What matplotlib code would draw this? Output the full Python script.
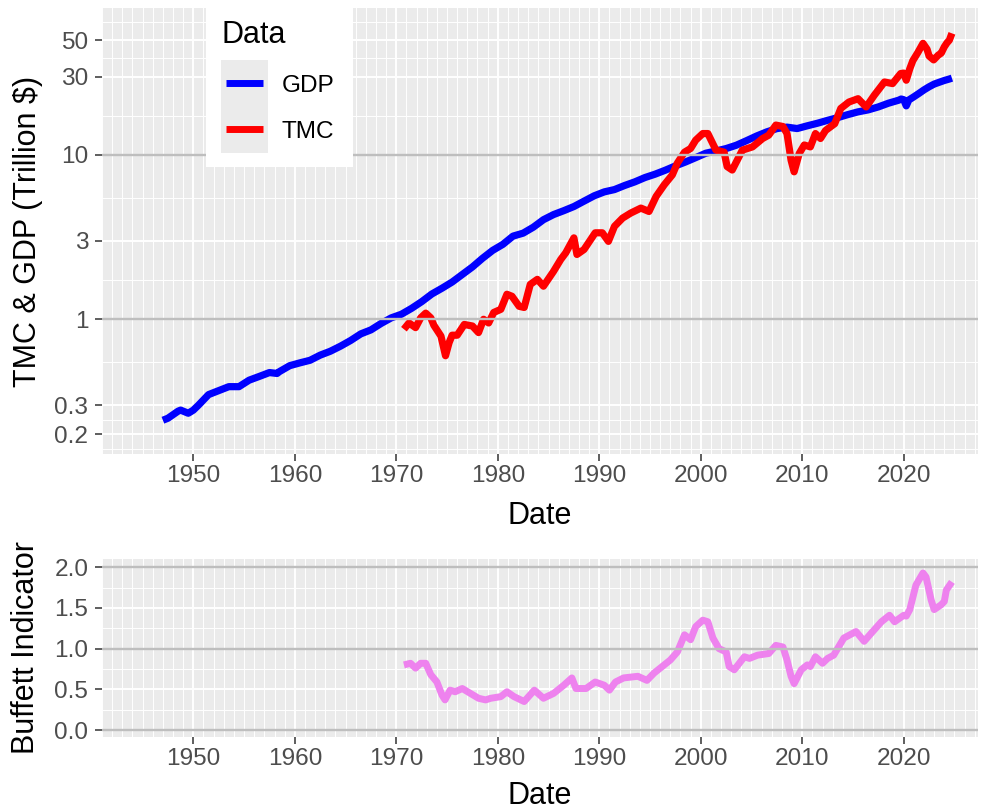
import numpy as np
import matplotlib
matplotlib.use("Agg")
import matplotlib.pyplot as plt
from matplotlib.lines import Line2D
from matplotlib.patches import Rectangle

plt.rcParams["font.family"] = ["Liberation Sans", "DejaVu Sans"]

# ── Data ──────────────────────────────────────────────────
gdp_date = [1947.0, 1947.5, 1948.5, 1948.75, 1949.5, 1950.0, 1950.5, 1951.5, 1952.5,
            1953.5, 1954.5, 1955.5, 1956.5, 1957.5, 1958.25, 1958.5, 1959.5, 1960.5,
            1961.5, 1962.5, 1963.5, 1964.5, 1965.5, 1966.5, 1967.5, 1968.5, 1969.5,
            1970.5, 1971.5, 1972.5, 1973.5, 1974.5, 1975.5, 1976.5, 1977.5, 1978.5,
            1979.5, 1980.5, 1981.5, 1982.5, 1983.5, 1984.5, 1985.5, 1986.5, 1987.5,
            1988.5, 1989.5, 1990.5, 1991.5, 1992.5, 1993.5, 1994.5, 1995.5, 1996.5,
            1997.5, 1998.5, 1999.5, 2000.5, 2001.5, 2002.5, 2003.5, 2004.5, 2005.5,
            2006.5, 2007.5, 2008.5, 2009.5, 2010.5, 2011.5, 2012.5, 2013.5, 2014.5,
            2015.5, 2016.5, 2017.5, 2018.5, 2019.5, 2019.75, 2020.0, 2020.25, 2020.5,
            2021.0, 2021.5, 2022.0, 2022.5, 2023.0, 2023.5, 2024.0, 2024.5, 2024.75]
gdp_value = [0.243, 0.25, 0.276, 0.28, 0.268, 0.28, 0.300, 0.348, 0.368,
             0.389, 0.389, 0.426, 0.449, 0.474, 0.468, 0.481, 0.522, 0.543,
             0.563, 0.605, 0.639, 0.686, 0.743, 0.815, 0.862, 0.943, 1.020,
             1.073, 1.165, 1.280, 1.425, 1.545, 1.685, 1.873, 2.082, 2.352,
             2.627, 2.857, 3.207, 3.344, 3.634, 4.037, 4.339, 4.580, 4.855,
             5.236, 5.642, 5.963, 6.158, 6.520, 6.859, 7.287, 7.640, 8.073,
             8.578, 9.063, 9.631, 10.25, 10.58, 10.94, 11.46, 12.21, 13.04,
             13.82, 14.47, 14.77, 14.48, 15.05, 15.60, 16.25, 16.88, 17.61,
             18.30, 18.81, 19.61, 20.66, 21.54, 21.9, 21.7, 19.9, 21.6,
             22.6, 23.7, 24.9, 26.0, 27.0, 27.7, 28.4, 29.0, 29.35]

tmc_date = [1970.75, 1971.25, 1971.9, 1972.4, 1972.9, 1973.4, 1973.7, 1974.4, 1974.85,
            1975.2, 1975.5, 1976.0, 1976.7, 1977.5, 1978.1, 1978.6, 1979.1, 1979.6,
            1980.3, 1980.9, 1981.4, 1982.1, 1982.6, 1983.2, 1983.9, 1984.5, 1985.5,
            1986.2, 1986.7, 1987.5, 1987.8, 1988.5, 1989.6, 1990.3, 1990.9, 1991.5,
            1992.3, 1993.1, 1994.1, 1994.9, 1995.6, 1996.4, 1997.2, 1997.7, 1998.4,
            1999.0, 1999.5, 2000.2, 2000.7, 2001.5, 2002.3, 2002.6, 2003.1, 2004.1,
            2005.1, 2006.1, 2006.7, 2007.4, 2008.1, 2008.5, 2008.9, 2009.2, 2009.7,
            2010.2, 2010.8, 2011.3, 2011.8, 2012.3, 2013.2, 2013.8, 2014.6, 2015.5,
            2016.3, 2017.1, 2018.1, 2018.9, 2019.7, 2020.0, 2020.25, 2020.6, 2020.9,
            2021.4, 2021.9, 2022.3, 2022.5, 2022.95, 2023.4, 2023.7, 2024.0, 2024.25,
            2024.5, 2024.75]
tmc_value = [0.87, 0.95, 0.89, 1.02, 1.09, 1.02, 0.92, 0.79, 0.60,
             0.72, 0.80, 0.80, 0.93, 0.91, 0.83, 1.00, 0.95, 1.10,
             1.15, 1.42, 1.38, 1.20, 1.18, 1.63, 1.75, 1.59, 1.96,
             2.31, 2.54, 3.13, 2.48, 2.66, 3.36, 3.36, 2.98, 3.68,
             4.13, 4.43, 4.75, 4.53, 5.59, 6.58, 7.57, 8.93, 10.4,
             10.95, 12.3, 13.5, 13.5, 10.7, 10.4, 8.5, 8.1, 10.7,
             11.2, 12.6, 13.2, 15.2, 14.9, 13.5, 9.3, 7.9, 10.2,
             11.5, 11.2, 13.5, 12.6, 14.1, 15.5, 19.2, 21.0, 22.0,
             19.6, 23.1, 27.8, 27.2, 31.3, 31.5, 28.5, 33.5, 37.5,
             42.1, 47.8, 44.0, 40.0, 37.9, 40.5, 41.7, 45.5, 48.0,
             50.0, 55.0]

buffett_date = [1970.75, 1971.4, 1971.9, 1972.4, 1972.9, 1973.4, 1974.0, 1974.5, 1974.8,
                1975.3, 1975.8, 1976.5, 1977.3, 1978.1, 1978.8, 1979.3, 1980.3, 1980.9,
                1981.6, 1982.6, 1983.6, 1984.5, 1985.5, 1986.5, 1987.3, 1987.7, 1988.7,
                1989.6, 1990.5, 1991.0, 1991.6, 1992.4, 1993.8, 1994.7, 1995.4, 1996.4,
                1997.0, 1997.7, 1998.4, 1999.0, 1999.5, 2000.2, 2000.7, 2001.2, 2001.8,
                2002.5, 2002.8, 2003.3, 2004.3, 2004.8, 2005.6, 2006.7, 2007.4, 2008.1,
                2008.5, 2008.9, 2009.2, 2009.9, 2010.5, 2010.8, 2011.3, 2012.0, 2012.5,
                2013.1, 2014.1, 2015.3, 2016.1, 2016.8, 2017.8, 2018.6, 2019.1, 2020.0,
                2020.25, 2020.6, 2021.2, 2021.9, 2022.2, 2022.7, 2023.0, 2023.7, 2024.0,
                2024.2, 2024.75]
buffett_value = [0.80, 0.82, 0.76, 0.82, 0.82, 0.68, 0.59, 0.43, 0.37,
                 0.49, 0.47, 0.51, 0.45, 0.39, 0.37, 0.39, 0.41, 0.47,
                 0.41, 0.35, 0.49, 0.39, 0.45, 0.55, 0.64, 0.51, 0.51,
                 0.59, 0.55, 0.49, 0.59, 0.64, 0.66, 0.61, 0.70, 0.80,
                 0.86, 0.96, 1.17, 1.11, 1.27, 1.35, 1.33, 1.13, 1.00,
                 0.96, 0.78, 0.74, 0.90, 0.88, 0.92, 0.94, 1.04, 1.02,
                 0.86, 0.66, 0.57, 0.74, 0.80, 0.78, 0.90, 0.82, 0.88,
                 0.92, 1.13, 1.21, 1.09, 1.19, 1.33, 1.41, 1.33, 1.41,
                 1.40, 1.48, 1.78, 1.93, 1.88, 1.60, 1.48, 1.54, 1.58,
                 1.72, 1.82]

top_ticks = [0.2, 0.3, 1, 3, 10, 30, 50]
top_tick_labels = ["0.2", "0.3", "1", "3", "10", "30", "50"]
bot_ticks = [0.0, 0.5, 1.0, 1.5, 2.0]
bot_tick_labels = ["0.0", "0.5", "1.0", "1.5", "2.0"]
year_ticks = [1950, 1960, 1970, 1980, 1990, 2000, 2010, 2020]
top_ref_lines = [1, 10]
bot_ref_lines = [0, 1, 2]

# ── Style ─────────────────────────────────────────────────
W, H = 982, 810
PANEL = "#EBEBEB"
REF = "#BEBEBE"
XLIM = (1940.97, 2027.32)


def px(x, y):
    return x / W, 1 - y / H


def style_axes(ax):
    ax.set_facecolor(PANEL)
    for s in ax.spines.values():
        s.set_visible(False)
    ax.set_axisbelow(True)
    ax.grid(which="major", color="white", lw=1.4)
    ax.grid(which="minor", color="white", lw=0.7)
    ax.tick_params(which="major", length=4.8, width=1.1, color="#333333",
                   labelcolor="#4D4D4D", labelsize=17.6)
    ax.tick_params(axis="y", which="major", pad=4.8)
    ax.tick_params(axis="x", which="major", pad=3.0)
    ax.tick_params(which="minor", length=0)
    ax.set_xlim(*XLIM)
    ax.set_xticks(year_ticks)
    ax.set_xticklabels([str(y) for y in year_ticks])
    ax.set_xticks(np.arange(1941, 2028), minor=True)


fig = plt.figure(figsize=(W / 100, H / 100), dpi=100)

left, right = 101.7, 978
ax1 = fig.add_axes([left / W, (H - 454) / H, (right - left) / W, (454 - 8.3) / H])
ax2 = fig.add_axes([left / W, (H - 737.3) / H, (right - left) / W, (737.3 - 559.3) / H])

# top panel
ax1.set_yscale("log")
ax1.set_ylim(0.1514, 78.1)
ax1.set_yticks(top_ticks)
ax1.set_yticklabels(top_tick_labels)
lt = np.log10(top_ticks)
ext = np.concatenate([[lt[0] - (lt[1] - lt[0])], lt, [lt[-1] + (lt[-1] - lt[-2])]])
ax1.set_yticks(10 ** ((ext[:-1] + ext[1:]) / 2), minor=True)
style_axes(ax1)
ax1.plot(gdp_date, gdp_value, color="blue", lw=5.2, solid_joinstyle="round",
         solid_capstyle="butt", zorder=3)
ax1.plot(tmc_date, tmc_value, color="red", lw=5.2, solid_joinstyle="round",
         solid_capstyle="butt", zorder=3)
for v in top_ref_lines:
    ax1.axhline(v, color=REF, lw=1.7, zorder=4)

# bottom panel
ax2.set_ylim(-0.0897, 2.098)
ax2.set_yticks(bot_ticks)
ax2.set_yticklabels(bot_tick_labels)
ax2.set_yticks([0.25, 0.75, 1.25, 1.75], minor=True)
style_axes(ax2)
ax2.plot(buffett_date, buffett_value, color="violet", lw=5, solid_joinstyle="round",
         solid_capstyle="butt", zorder=3)
for v in bot_ref_lines:
    ax2.axhline(v, color=REF, lw=1.7, zorder=4)

# axis titles
fig.text(*px(28, 231), "TMC & GDP (Trillion $)", rotation=90, ha="center",
         va="center", fontsize=22)
fig.text(*px(26, 648), "Buffett Indicator", rotation=90, ha="center",
         va="center", fontsize=22)
fig.text(*px(540, 524), "Date", ha="center", va="baseline", fontsize=22)
fig.text(*px(540, 804.5), "Date", ha="center", va="baseline", fontsize=22)

# legend
fig.patches.append(Rectangle(px(206, 167), 147 / W, 167 / H, transform=fig.transFigure,
                             facecolor="white", edgecolor="none", zorder=5))
fig.patches.append(Rectangle(px(221, 153), 47 / W, 93 / H, transform=fig.transFigure,
                             facecolor=PANEL, edgecolor="none", zorder=6))
fig.text(*px(221.7, 42.7), "Data", ha="left", va="baseline", fontsize=22, zorder=7)
for label, color, y in [("GDP", "blue", 83), ("TMC", "red", 129)]:
    x0, yy = px(226, y)
    x1, _ = px(263, y)
    fig.lines.append(Line2D([x0, x1], [yy, yy], transform=fig.transFigure,
                            color=color, lw=5, solid_capstyle="butt", zorder=7))
    fig.text(*px(281.7, y), label, ha="left", va="center_baseline", fontsize=17.6,
             zorder=7)

fig.savefig("out.png", dpi=100, facecolor="white")
